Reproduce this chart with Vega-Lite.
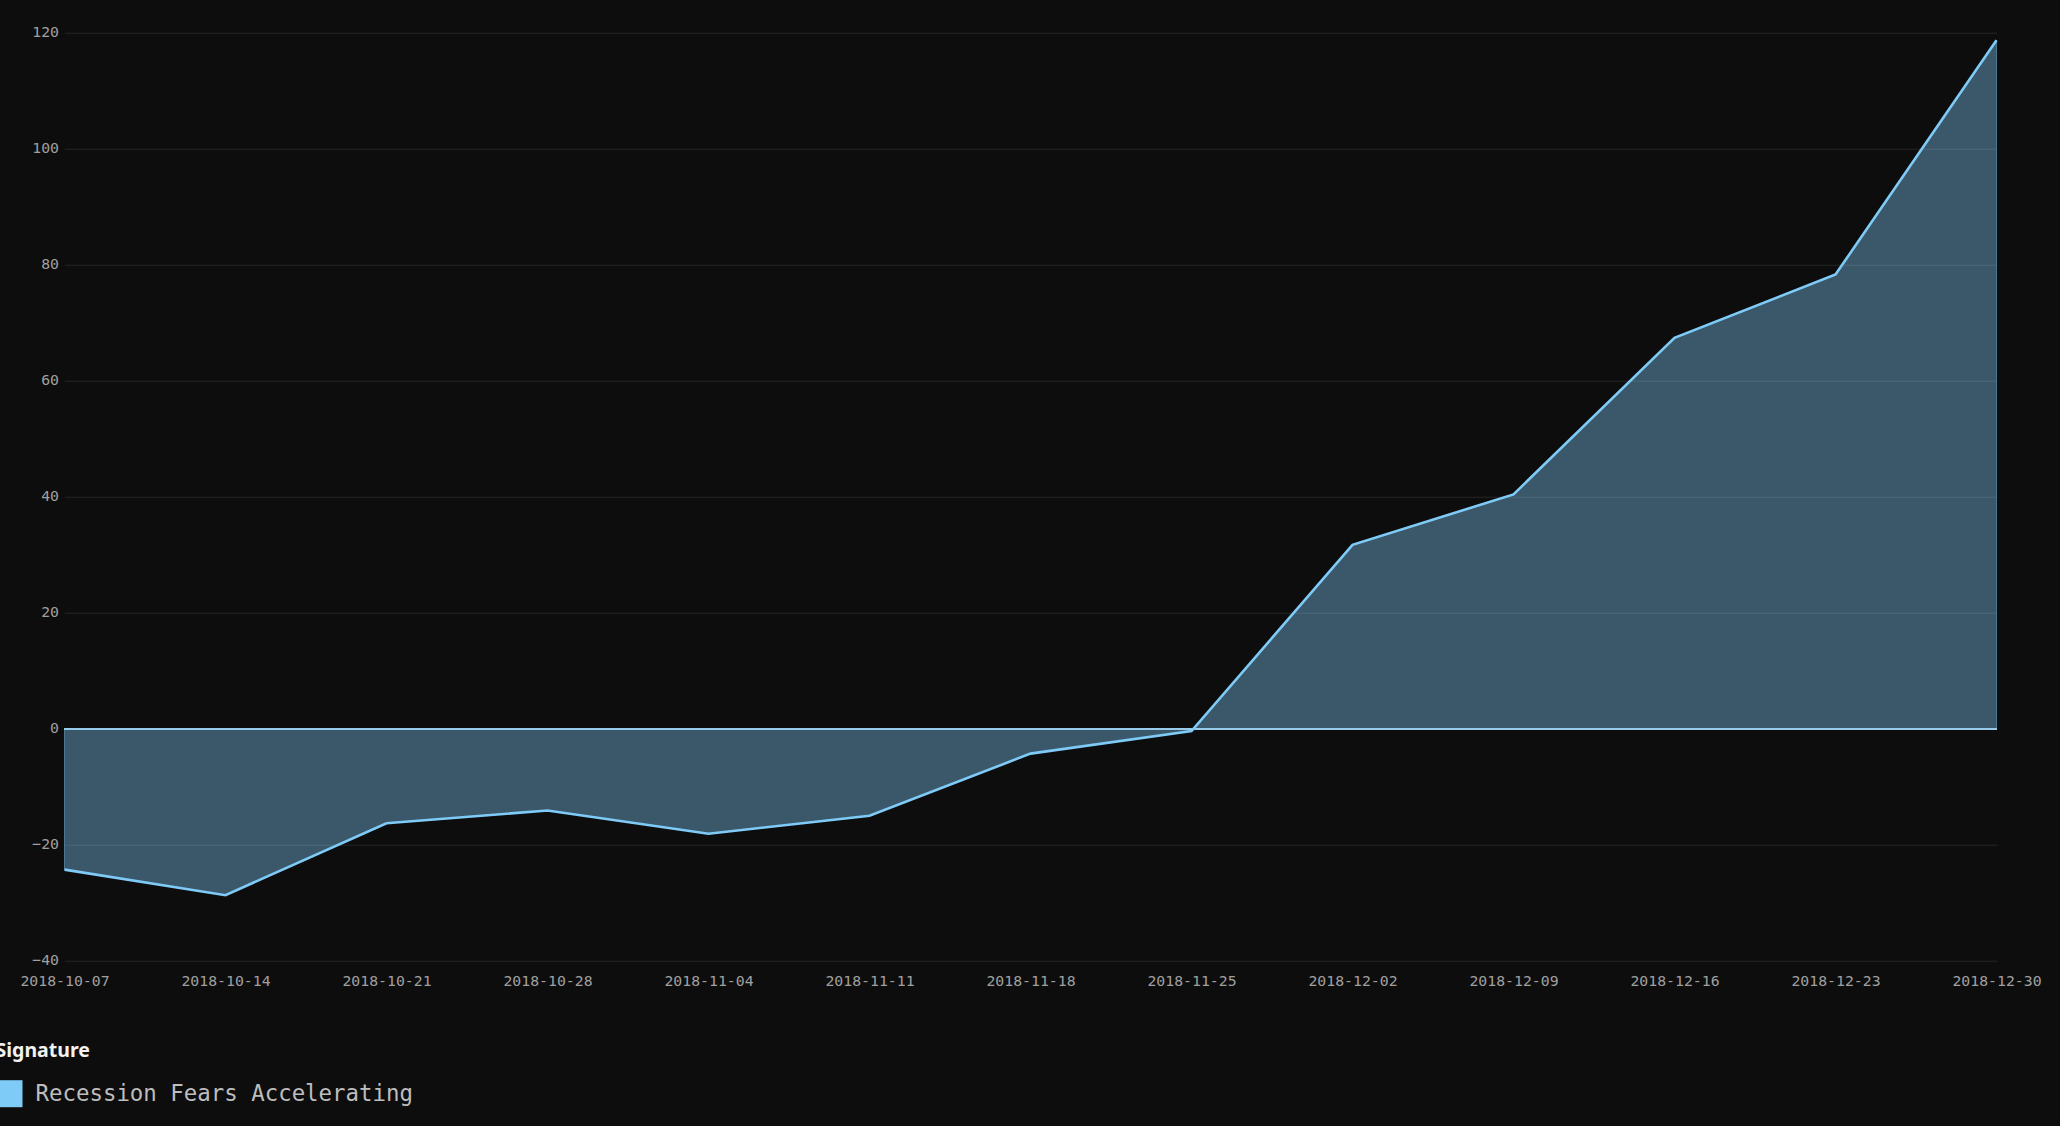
{
  "$schema": "https://vega.github.io/schema/vega-lite/v6.json",
  "autosize": {"type": "none"},
  "padding": {"left": 64.5, "top": 32.7, "right": 63.5, "bottom": 165.3},
  "width": 1932,
  "height": 928,
  "background": "#0d0d0d",
  "data": {
    "values": [
      {"date": "2018-10-07", "value": -24.3, "signature": "Recession Fears Accelerating"},
      {"date": "2018-10-14", "value": -28.7, "signature": "Recession Fears Accelerating"},
      {"date": "2018-10-21", "value": -16.3, "signature": "Recession Fears Accelerating"},
      {"date": "2018-10-28", "value": -14.1, "signature": "Recession Fears Accelerating"},
      {"date": "2018-11-04", "value": -18.1, "signature": "Recession Fears Accelerating"},
      {"date": "2018-11-11", "value": -15.0, "signature": "Recession Fears Accelerating"},
      {"date": "2018-11-18", "value": -4.3, "signature": "Recession Fears Accelerating"},
      {"date": "2018-11-25", "value": -0.4, "signature": "Recession Fears Accelerating"},
      {"date": "2018-12-02", "value": 31.7, "signature": "Recession Fears Accelerating"},
      {"date": "2018-12-09", "value": 40.4, "signature": "Recession Fears Accelerating"},
      {"date": "2018-12-16", "value": 67.4, "signature": "Recession Fears Accelerating"},
      {"date": "2018-12-23", "value": 78.3, "signature": "Recession Fears Accelerating"},
      {"date": "2018-12-30", "value": 118.7, "signature": "Recession Fears Accelerating"}
    ]
  },
  "encoding": {
    "x": {
      "field": "date",
      "type": "temporal",
      "scale": {"type": "utc"},
      "axis": {
        "title": null,
        "format": "%Y-%m-%d",
        "tickCount": {"interval": "week", "step": 1},
        "labelPadding": 13,
        "labelFlush": false,
        "labelOverlap": false,
        "grid": false
      }
    },
    "y": {
      "field": "value",
      "type": "quantitative",
      "scale": {"domain": [-40, 120], "nice": false},
      "axis": {"title": null, "values": [-40, -20, 0, 20, 40, 60, 80, 100, 120], "labelPadding": 6}
    }
  },
  "layer": [
    {
      "mark": {"type": "area", "fillOpacity": 0.4, "stroke": "#7fcbf8", "strokeWidth": 1, "strokeOpacity": 0.45},
      "encoding": {
        "color": {
          "field": "signature",
          "type": "nominal",
          "scale": {"range": ["#7fcbf8"]},
          "legend": {
            "title": "Signature",
            "orient": "none",
            "legendX": -69,
            "legendY": 1009,
            "padding": 0,
            "titleFont": "Noto Sans",
            "titleFontWeight": "bold",
            "titleFontSize": 19.5,
            "titleColor": "#f2f2f2",
            "titlePadding": 19,
            "labelFont": "DejaVu Sans Mono",
            "labelFontSize": 22.4,
            "labelColor": "#bdbdbd",
            "labelOffset": 13,
            "labelLimit": 0,
            "symbolType": "square",
            "symbolSize": 729,
            "symbolOpacity": 1,
            "symbolFillColor": "#7fcbf8",
            "symbolStrokeWidth": 0
          }
        }
      }
    },
    {
      "mark": {"type": "rule", "color": "#96cbec", "strokeWidth": 1.5},
      "encoding": {"y": {"datum": 0}, "x": {"value": 0}, "x2": {"value": 1932}}
    },
    {
      "mark": {"type": "line", "strokeWidth": 2.6},
      "encoding": {
        "color": {"field": "signature", "type": "nominal"}
      }
    }
  ],
  "config": {
    "view": {"stroke": null},
    "axis": {
      "domain": false,
      "ticks": false,
      "tickSize": 0,
      "gridColor": "#262626",
      "gridWidth": 1,
      "labelFont": "DejaVu Sans Mono",
      "labelFontSize": 14.8,
      "labelColor": "#a0a0a0"
    }
  }
}
